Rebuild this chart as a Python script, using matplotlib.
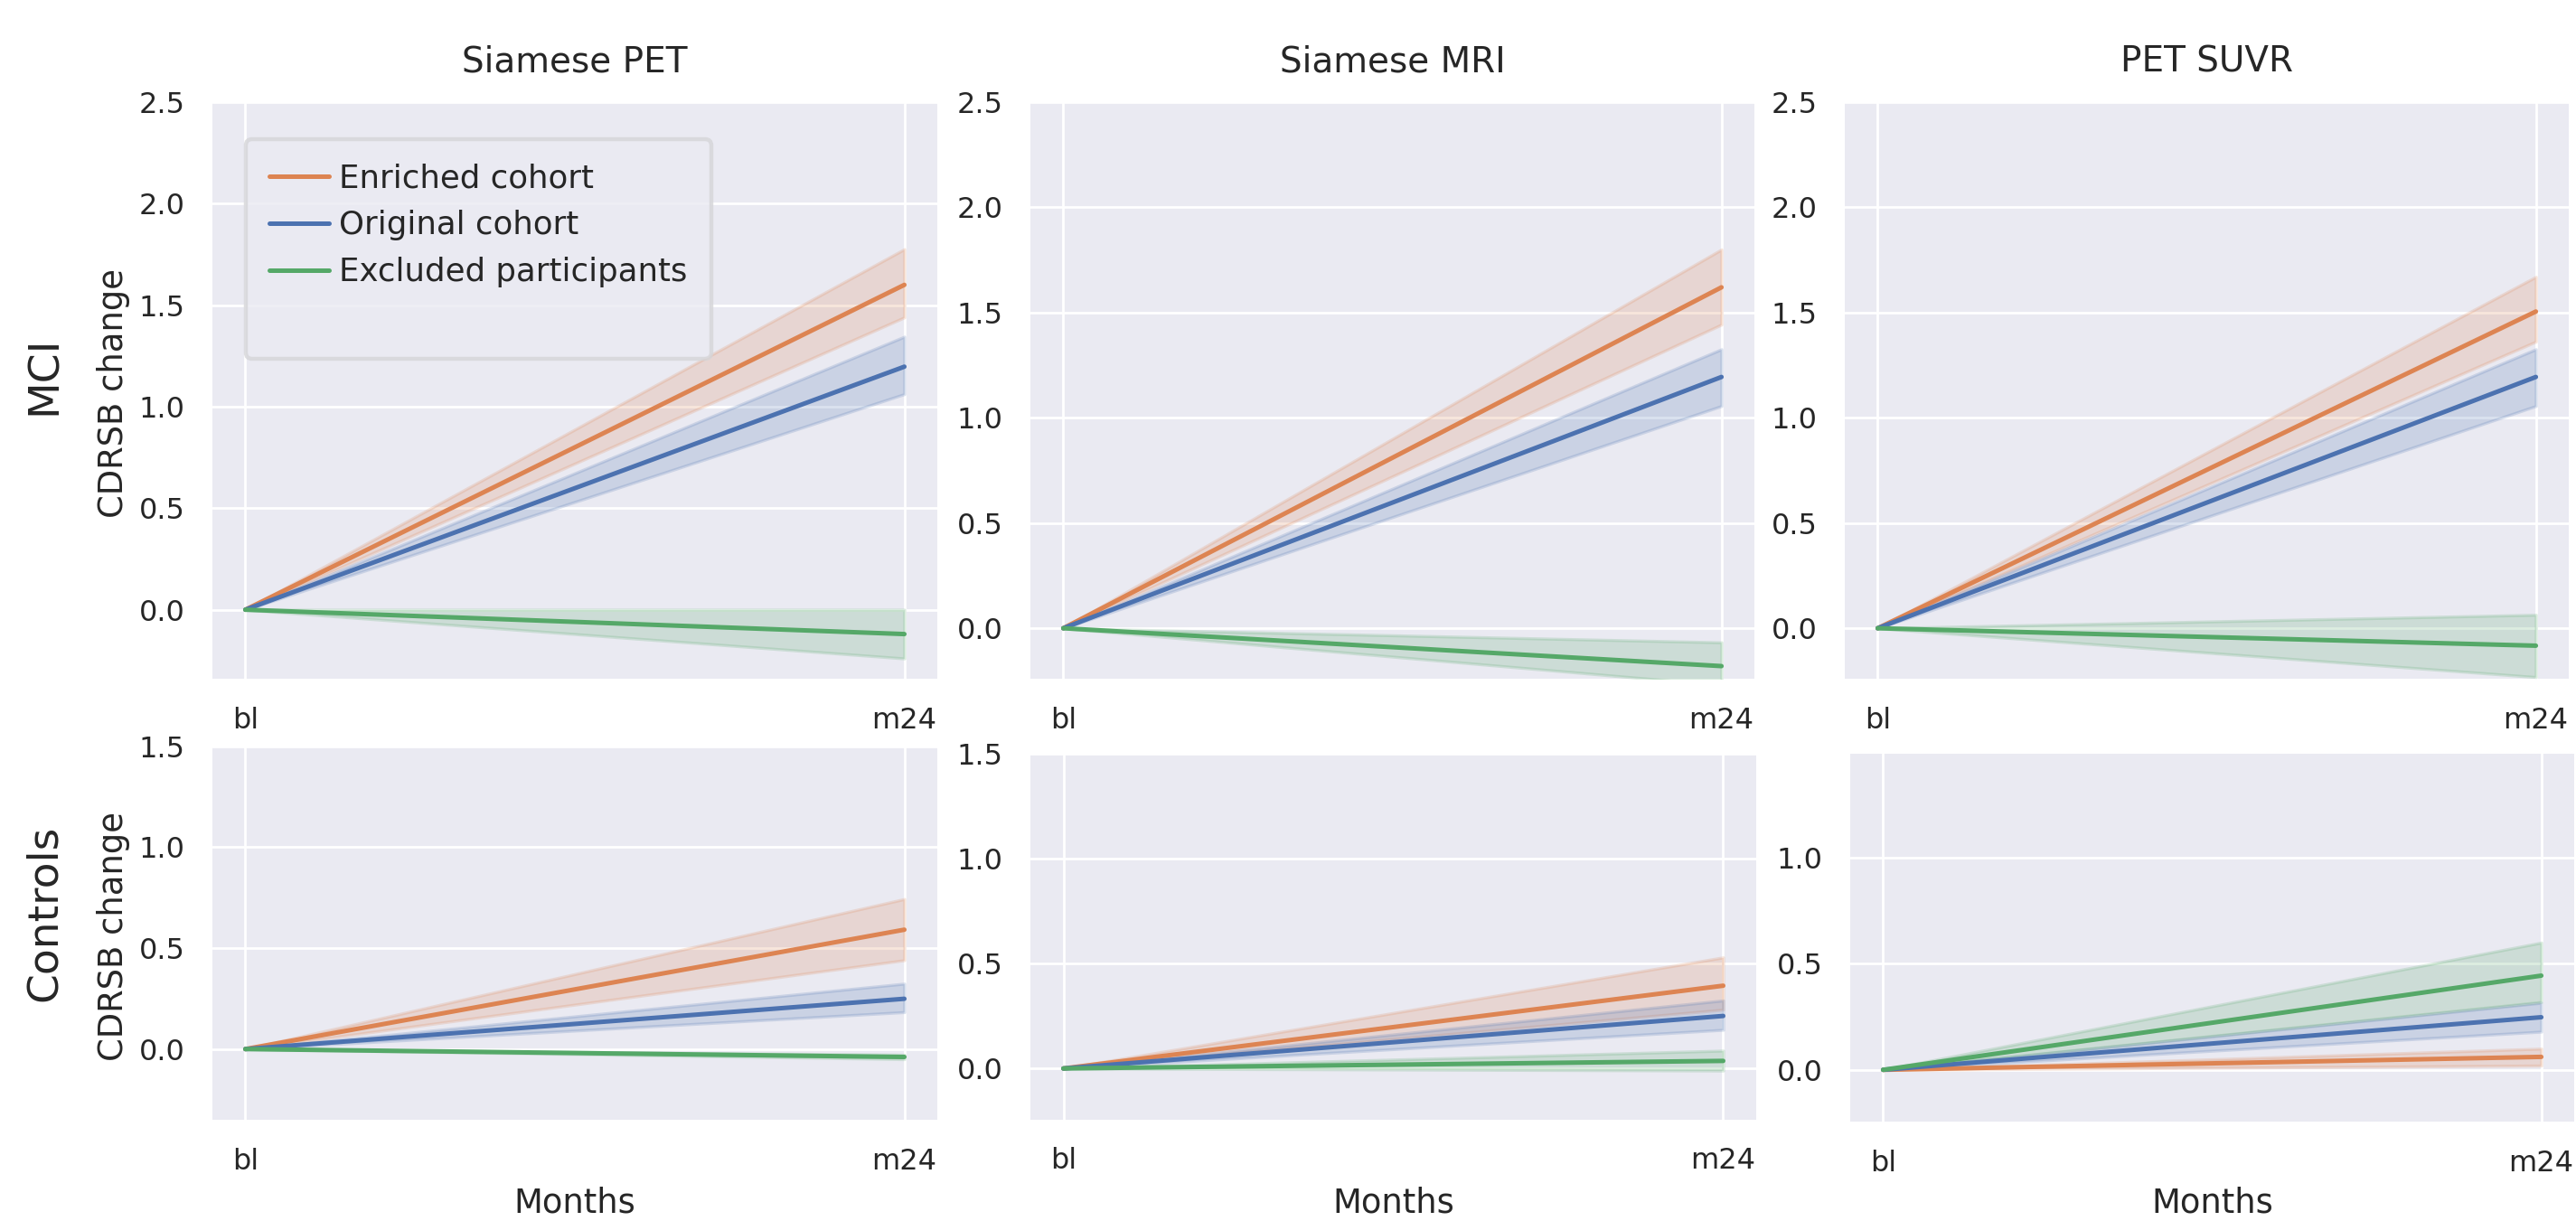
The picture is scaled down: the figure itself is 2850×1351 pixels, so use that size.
import matplotlib
matplotlib.use("Agg")
import matplotlib.pyplot as plt
import seaborn as sns
from matplotlib.lines import Line2D

sns.set_theme(style="darkgrid")
plt.rcParams['font.family'] = ['DejaVu Sans']

# ---- data ----
timepoints = ["bl", "m24"]
methods = ["Siamese PET", "Siamese MRI", "PET SUVR"]
groups = ["Enriched cohort", "Original cohort", "Excluded participants"]
rows = ["MCI", "Controls"]

# mean CDRSB change at m24 (baseline = 0) and 95% CI bounds, per method
mci_enriched = [1.60, 1.62, 1.505]
mci_enriched_lo = [1.44, 1.443, 1.362]
mci_enriched_hi = [1.776, 1.80, 1.67]
mci_original = [1.197, 1.194, 1.194]
mci_original_lo = [1.062, 1.056, 1.056]
mci_original_hi = [1.345, 1.326, 1.326]
mci_excluded = [-0.12, -0.18, -0.083]
mci_excluded_lo = [-0.24, -0.27, -0.232]
mci_excluded_hi = [0.0, -0.067, 0.064]

ctl_enriched = [0.591, 0.394, 0.061]
ctl_enriched_lo = [0.44, 0.28, 0.02]
ctl_enriched_hi = [0.743, 0.529, 0.10]
ctl_original = [0.249, 0.25, 0.248]
ctl_original_lo = [0.183, 0.184, 0.18]
ctl_original_hi = [0.324, 0.324, 0.316]
ctl_excluded = [-0.039, 0.036, 0.444]
ctl_excluded_lo = [-0.05, -0.01, 0.32]
ctl_excluded_hi = [-0.028, 0.085, 0.60]

baseline = 0.0

colors = ["#DD8452", "#4C72B0", "#55A868"]

data = {
    "MCI": [(mci_enriched, mci_enriched_lo, mci_enriched_hi),
            (mci_original, mci_original_lo, mci_original_hi),
            (mci_excluded, mci_excluded_lo, mci_excluded_hi)],
    "Controls": [(ctl_enriched, ctl_enriched_lo, ctl_enriched_hi),
                 (ctl_original, ctl_original_lo, ctl_original_hi),
                 (ctl_excluded, ctl_excluded_lo, ctl_excluded_hi)],
}

W, H = 2850, 1351
fig = plt.figure(figsize=(W / 200, H / 200), dpi=200)


def frac(x0, y0, x1, y1):
    return [x0 / W, 1 - y1 / H, (x1 - x0) / W, (y1 - y0) / H]


boxes = {
    ("MCI", 0): frac(235, 113, 1037, 751),
    ("MCI", 1): frac(1140, 113, 1941, 751),
    ("MCI", 2): frac(2041, 113, 2842, 751),
    ("Controls", 0): frac(235, 825.5, 1037, 1239),
    ("Controls", 1): frac(1140, 833.6, 1943, 1238.7),
    ("Controls", 2): frac(2047, 834, 2848, 1241),
}
ylims = {
    ("MCI", 0): (-0.34, 2.5),
    ("MCI", 1): (-0.24, 2.5),
    ("MCI", 2): (-0.24, 2.5),
    ("Controls", 0): (-0.35, 1.5),
    ("Controls", 1): (-0.243, 1.5),
    ("Controls", 2): (-0.244, 1.49),
}
yticks = {
    "MCI": [0.0, 0.5, 1.0, 1.5, 2.0, 2.5],
    "Controls": [0.0, 0.5, 1.0, 1.5],
}

LW = 1.8
xs = list(range(len(timepoints)))
axes = {}
for r in rows:
    for j, m in enumerate(methods):
        ax = fig.add_axes(boxes[(r, j)])
        axes[(r, j)] = ax
        for g, (col, (mean, lo, hi)) in enumerate(zip(colors, data[r])):
            ax.fill_between(xs, [baseline, lo[j]], [baseline, hi[j]],
                            color=col, alpha=0.2, linewidth=1.2)
        for g, (col, (mean, lo, hi)) in enumerate(zip(colors, data[r])):
            ax.plot(xs, [baseline, mean[j]], color=col, lw=LW,
                    label=groups[g])
        ax.set_xticks(xs)
        ax.set_xticklabels(timepoints)
        ax.set_yticks(yticks[r])
        ax.set_ylim(*ylims[(r, j)])
        ax.margins(x=0.05)
        ax.tick_params(axis='both', labelsize=11.5, pad=11, length=0)
        for s in ax.spines.values():
            s.set_visible(False)
        if r == "MCI":
            ax.set_title(m, fontsize=14, pad=12)
        else:
            pos = ax.get_position()
            fig.text(pos.x0 + pos.width / 2, 2 / H, "Months",
                     ha='center', va='bottom', fontsize=13.3)

# legend on first panel
ax0 = axes[("MCI", 0)]
handles = [Line2D([], [], color=c, lw=LW) for c in colors]
handles.append(Line2D([], [], color='none'))
leg = ax0.legend(handles, groups + [" "], loc='upper left',
                 bbox_to_anchor=(0.0456, 0.9357), borderaxespad=0,
                 fontsize=12.8, handlelength=1.86, labelspacing=0.5,
                 frameon=True, fancybox=True, handletextpad=0.3,
                 borderpad=0.75)
leg.get_frame().set_edgecolor('#D5D5D8')
leg.get_frame().set_linewidth(1.6)

# row and y labels
fig.text(126 / W, 1 - 435 / H, "CDRSB change", rotation=90,
         ha='center', va='center', fontsize=13.3)
fig.text(126 / W, 1 - 1036 / H, "CDRSB change", rotation=90,
         ha='center', va='center', fontsize=13.3)
fig.text(49 / W, 1 - 415 / H, "MCI", rotation=90,
         ha='center', va='center', fontsize=17)
fig.text(49 / W, 1 - 1010 / H, "Controls", rotation=90,
         ha='center', va='center', fontsize=17)

fig.savefig("out.png", dpi=200, facecolor='white')
